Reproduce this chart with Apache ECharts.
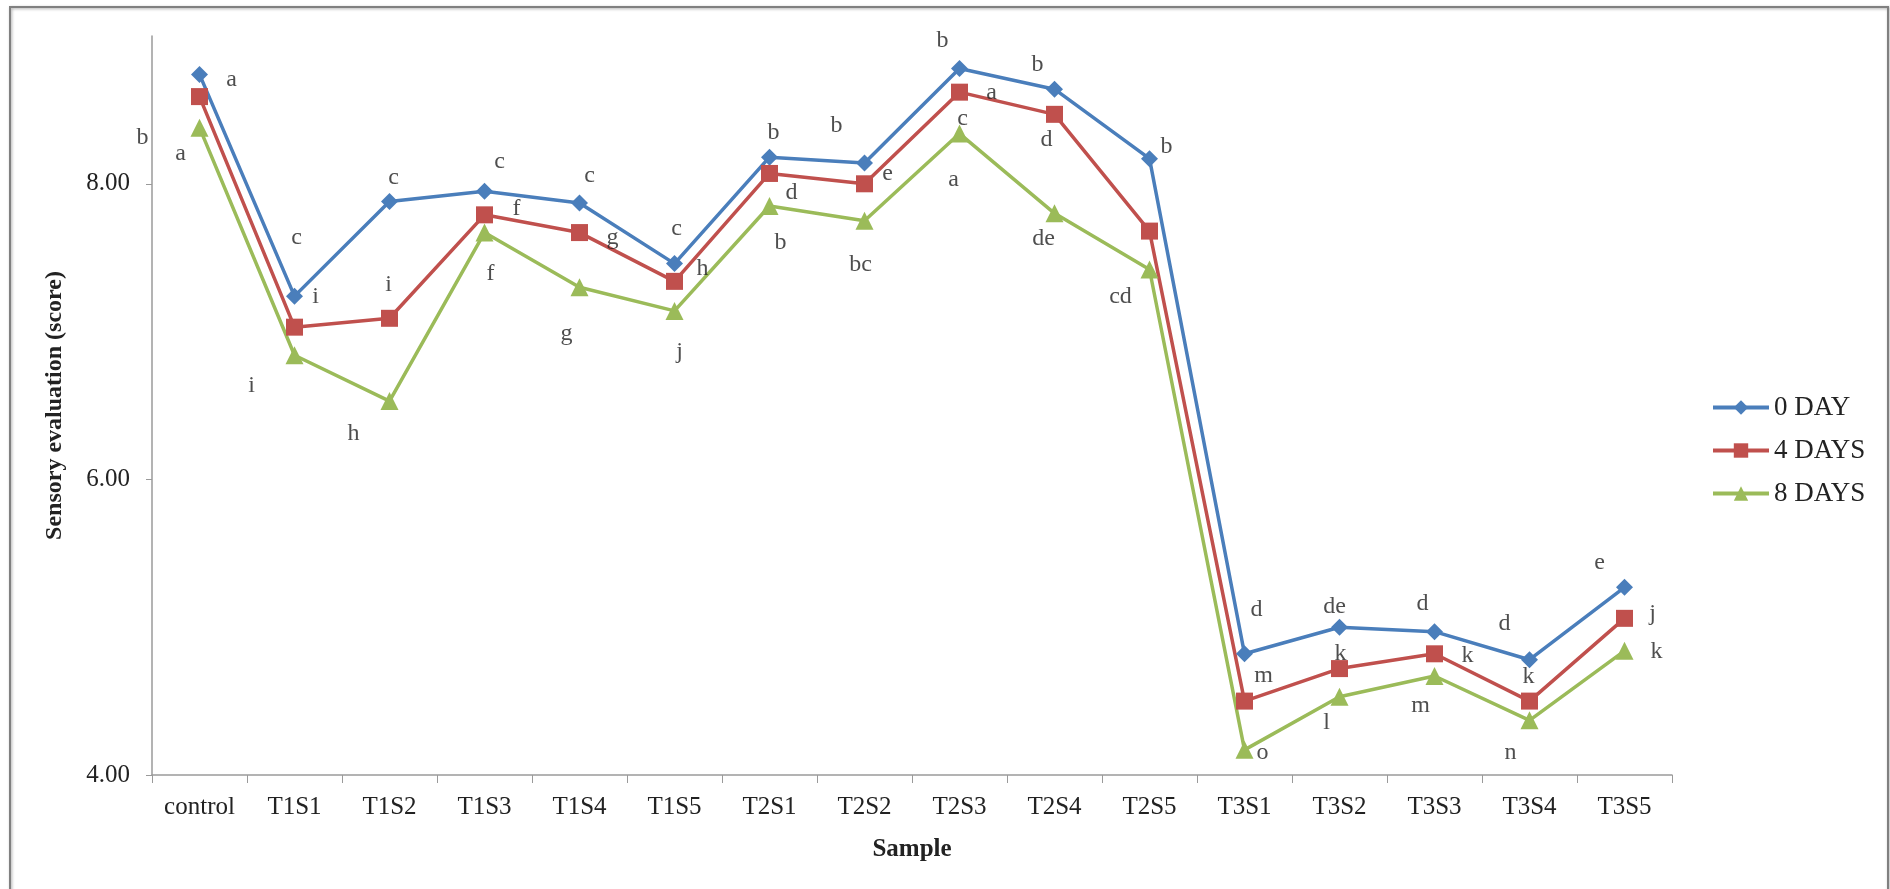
<!DOCTYPE html>
<html>
<head>
<meta charset="utf-8">
<script src="https://cdn.jsdelivr.net/npm/echarts@6/dist/echarts.min.js"></script>
<style>
  html, body { margin: 0; padding: 0; background: #fff; }
  #main { width: 1890px; height: 889px; }
</style>
</head>
<body>
<div id="main"></div>
<script>
var categories = ['control', 'T1S1', 'T1S2', 'T1S3', 'T1S4', 'T1S5', 'T2S1', 'T2S2', 'T2S3', 'T2S4', 'T2S5', 'T3S1', 'T3S2', 'T3S3', 'T3S4', 'T3S5'];
var seriesNames = ['0 DAY', '4 DAYS', '8 DAYS'];
var yTicks = [4, 6, 8];

var day0 = [8.74, 7.24, 7.88, 7.95, 7.87, 7.46, 8.18, 8.14, 8.78, 8.64, 8.17, 4.82, 5.00, 4.97, 4.78, 5.27];
var day4 = [8.59, 7.03, 7.09, 7.79, 7.67, 7.34, 8.07, 8.00, 8.62, 8.47, 7.68, 4.50, 4.72, 4.82, 4.50, 5.06];
var day8 = [8.38, 6.84, 6.53, 7.67, 7.30, 7.14, 7.85, 7.75, 8.34, 7.80, 7.42, 4.17, 4.53, 4.67, 4.37, 4.84];

// significance letters
var day0Letters = ['a', 'c', 'c', 'c', 'c', 'c', 'b', 'b', 'b', 'b', 'b', 'd', 'de', 'd', 'd', 'e'];
var day4Letters = ['b', 'i', 'i', 'f', 'g', 'h', 'd', 'e', 'a', 'd', '', 'm', 'k', 'k', 'k', 'j'];
var day8Letters = ['a', 'i', 'h', 'f', 'g', 'j', 'b', 'bc', 'c', 'de', 'cd', 'o', 'l', 'm', 'n', 'k'];
var day8Extra = { index: 8, text: 'a' };

// label placement (pixels from the marker), kept apart from the data
var day0Offsets = [[32, 5], [2, -58], [4, -24], [15, -29], [10, -27], [2, -35], [4, -24], [-28, -37], [-17, -28], [-17, -25], [17, -12], [12, -44], [-5, -20], [-12, -28], [-25, -36], [-25, -25]];
var day4Offsets = [[-57, 41], [21, -30], [-1, -34], [32, -6], [33, 5], [28, -13], [22, 19], [23, -10], [32, 1], [-8, 25], [0, 0], [19, -25], [1, -15], [33, 2], [-1, -24], [28, -5]];
var day8Offsets = [[-19, 26], [-43, 30], [-36, 33], [6, 41], [-13, 46], [5, 41], [11, 37], [-4, 44], [3, -15], [-11, 25], [-29, 27], [18, 3], [-13, 26], [-14, 30], [-19, 32], [32, 1]];
var day8ExtraOffset = [-6, 46];

var colors = ['#4A7EBB', '#C0504D', '#9BBB59'];
var font = '"Liberation Serif", "Times New Roman", serif';

function letterSeries(values, letters, offsets, extra, extraOffset) {
    var data = [];
    for (var i = 0; i < values.length; i++) {
        if (!letters[i]) continue;
        data.push({
            value: [i, values[i]],
            label: { formatter: letters[i], offset: offsets[i] }
        });
    }
    if (extra) {
        data.push({
            value: [extra.index, values[extra.index]],
            label: { formatter: extra.text, offset: extraOffset }
        });
    }
    return {
        type: 'scatter',
        name: 'letters',
        symbolSize: 0,
        silent: true,
        z: 5,
        label: {
            show: true,
            position: 'inside',
            fontFamily: font,
            fontSize: 24,
            color: '#222'
        },
        data: data
    };
}

function lineSeries(name, values, color, symbol, size) {
    return {
        name: name,
        type: 'line',
        data: values,
        symbol: symbol,
        symbolSize: size,
        lineStyle: { color: color, width: 3.5 },
        itemStyle: { color: color },
        z: 3
    };
}

var chart = echarts.init(document.getElementById('main'));

var option = {
    animation: false,
    backgroundColor: '#fff',
    color: colors,
    grid: { left: 152, right: 218, top: 36, bottom: 114 },
    legend: {
        data: seriesNames,
        orient: 'vertical',
        left: 1706,
        top: 389,
        itemWidth: 56,
        itemHeight: 18,
        itemGap: 16,
        lineStyle: { width: 4 },
        textStyle: { fontFamily: font, fontSize: 27, color: '#222' }
    },
    xAxis: {
        type: 'category',
        data: categories,
        name: 'Sample',
        nameLocation: 'middle',
        nameGap: 62,
        nameTextStyle: { fontFamily: font, fontSize: 25, fontWeight: 'bold', color: '#222' },
        axisLine: { lineStyle: { color: '#9a9a9a', width: 1.5 } },
        axisTick: { show: true, length: 8, lineStyle: { color: '#9a9a9a' } },
        axisLabel: { fontFamily: font, fontSize: 25, color: '#222', margin: 20, interval: 0 }
    },
    yAxis: {
        type: 'value',
        min: 4,
        max: 9,
        interval: 1,
        name: 'Sensory evaluation (score)',
        nameLocation: 'middle',
        nameGap: 85,
        nameTextStyle: { fontFamily: font, fontSize: 24, fontWeight: 'bold', color: '#222' },
        splitLine: { show: false },
        axisLine: { show: true, lineStyle: { color: '#9a9a9a', width: 1.5 } },
        axisTick: { show: true, length: 6, customValues: yTicks, lineStyle: { color: '#9a9a9a' } },
        axisLabel: {
            fontFamily: font,
            fontSize: 25,
            color: '#222',
            margin: 22,
            customValues: yTicks,
            formatter: function (v) { return v % 2 === 0 ? v.toFixed(2) : ''; }
        }
    },
    graphic: [{
        type: 'rect',
        shape: { x: 10, y: 7, width: 1878, height: 900 },
        style: { fill: 'none', stroke: '#808080', lineWidth: 2, shadowBlur: 3, shadowColor: 'rgba(0,0,0,0.35)', shadowOffsetX: 1, shadowOffsetY: 1 },
        silent: true
    }],
    series: [
        lineSeries(seriesNames[0], day0, colors[0], 'diamond', 17),
        lineSeries(seriesNames[1], day4, colors[1], 'rect', 17),
        lineSeries(seriesNames[2], day8, colors[2], 'triangle', 18),
        letterSeries(day0, day0Letters, day0Offsets),
        letterSeries(day4, day4Letters, day4Offsets),
        letterSeries(day8, day8Letters, day8Offsets, day8Extra, day8ExtraOffset)
    ]
};

chart.setOption(option);
</script>
</body>
</html>
